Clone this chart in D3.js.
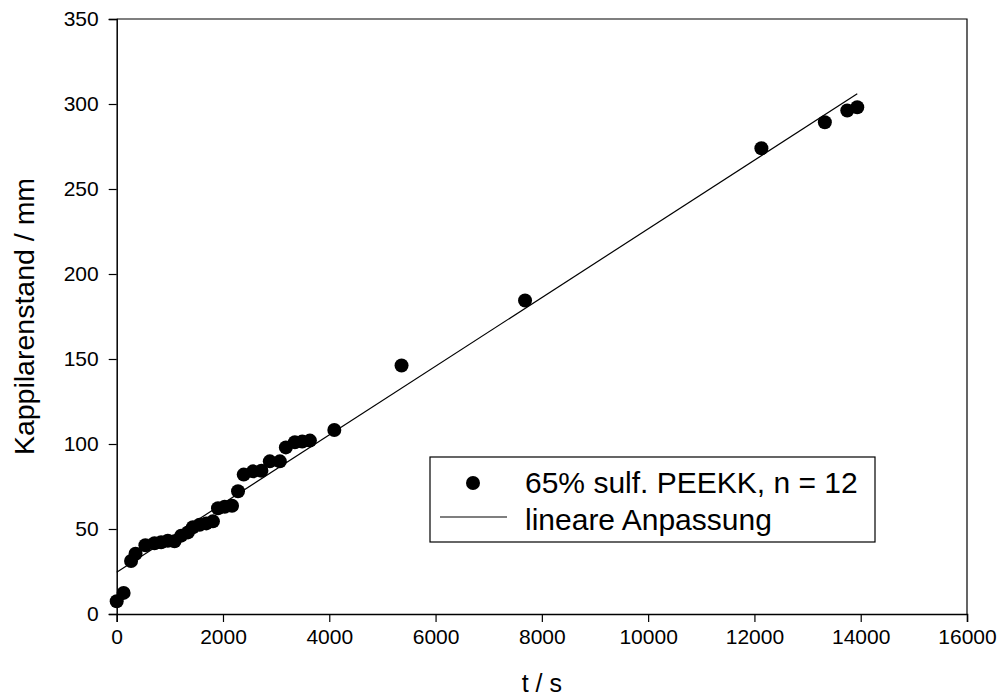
<!DOCTYPE html>
<html lang="de">
<head>
<meta charset="UTF-8">
<title>Kapillarenstand</title>
<script src="https://d3js.org/d3.v7.min.js"></script>
<style>
  body { margin: 0; background: #fff; }
  svg { display: block; font-family: "Liberation Sans", Arial, sans-serif; }
</style>
</head>
<body>
<script>
  // measured points (t in s, height in mm)
  const timeS = [0, 130, 270, 355, 540, 711, 836, 962, 1088, 1214, 1340, 1434, 1560, 1686,
    1811, 1906, 2032, 2170, 2283, 2390, 2566, 2723, 2881, 3070, 3183, 3353, 3491, 3636,
    4095, 5360, 7684, 12131, 13325, 13747, 13935];
  const heightMm = [7.5, 12.4, 31.2, 35.4, 40.4, 41.6, 42.2, 43.1, 42.8, 46.1, 48, 51, 52.5, 53.3,
    54.5, 62.2, 63.1, 63.7, 72.2, 82, 83.9, 84.3, 89.8, 89.8, 98, 101, 101.4, 102,
    108.2, 146.2, 184.4, 274, 289.3, 296.2, 298.1];

  // linear fit end points
  const fitT = [0, 13935];
  const fitH = [24.6, 306];

  const xTicks = [0, 2000, 4000, 6000, 8000, 10000, 12000, 14000, 16000];
  const yTicks = [0, 50, 100, 150, 200, 250, 300, 350];

  const legendLabels = ["65% sulf. PEEKK, n = 12", "lineare Anpassung"];

  const W = 1003, H = 700;
  const plotL = 116.7, plotR = 967, plotT = 19, plotB = 614;

  const svg = d3.select("body").append("svg")
    .attr("width", W)
    .attr("height", H);

  const x = d3.scaleLinear().domain([0, 16000]).range([plotL, plotR]);
  const y = d3.scaleLinear().domain([0, 350]).range([plotB, plotT]);

  // frame top + right
  svg.append("path")
    .attr("d", `M${plotL},${plotT}H${plotR}V${plotB}`)
    .attr("fill", "none")
    .attr("stroke", "#000")
    .attr("stroke-width", 1.2);

  // x axis
  const xAxis = svg.append("g")
    .attr("transform", `translate(0,${plotB})`)
    .call(d3.axisBottom(x).tickValues(xTicks).tickSize(8).tickPadding(7).tickFormat(d3.format("d")));

  // y axis
  const yAxis = svg.append("g")
    .attr("transform", `translate(${plotL},0)`)
    .call(d3.axisLeft(y).tickValues(yTicks).tickSize(8).tickPadding(10).tickFormat(d3.format("d")));

  [xAxis, yAxis].forEach(g => {
    g.select(".domain").attr("stroke-width", 1.5);
    g.selectAll(".tick line").attr("stroke-width", 1.2);
    g.selectAll("text").attr("font-size", 21).attr("fill", "#000")
      .attr("font-family", "'Liberation Sans', Arial, sans-serif");
  });

  // axis titles
  svg.append("text")
    .attr("x", (plotL + plotR) / 2)
    .attr("y", 692)
    .attr("text-anchor", "middle")
    .attr("font-size", 25)
    .text("t / s");

  svg.append("text")
    .attr("transform", `translate(34,${(plotT + plotB) / 2}) rotate(-90)`)
    .attr("text-anchor", "middle")
    .attr("font-size", 28.5)
    .text("Kappilarenstand / mm");

  // fit line
  const line = d3.line().x((d, i) => x(fitT[i])).y(d => y(d));
  svg.append("path")
    .attr("d", line(fitH))
    .attr("fill", "none")
    .attr("stroke", "#000")
    .attr("stroke-width", 1.2);

  // data points
  svg.append("g").selectAll("circle")
    .data(timeS)
    .join("circle")
    .attr("cx", d => x(d))
    .attr("cy", (d, i) => y(heightMm[i]))
    .attr("r", 7)
    .attr("fill", "#000");

  // legend
  const lg = svg.append("g");
  lg.append("rect")
    .attr("x", 430).attr("y", 457)
    .attr("width", 445).attr("height", 85)
    .attr("fill", "#fff")
    .attr("stroke", "#000")
    .attr("stroke-width", 1.2);
  lg.append("circle").attr("cx", 473).attr("cy", 483).attr("r", 7).attr("fill", "#000");
  lg.append("line")
    .attr("x1", 440).attr("x2", 507)
    .attr("y1", 517).attr("y2", 517)
    .attr("stroke", "#000").attr("stroke-width", 1.2);
  lg.selectAll("text.lbl")
    .data(legendLabels)
    .join("text")
    .attr("class", "lbl")
    .attr("x", 525)
    .attr("y", (d, i) => 493 + i * 37)
    .attr("font-size", 30)
    .text(d => d);
</script>
</body>
</html>
